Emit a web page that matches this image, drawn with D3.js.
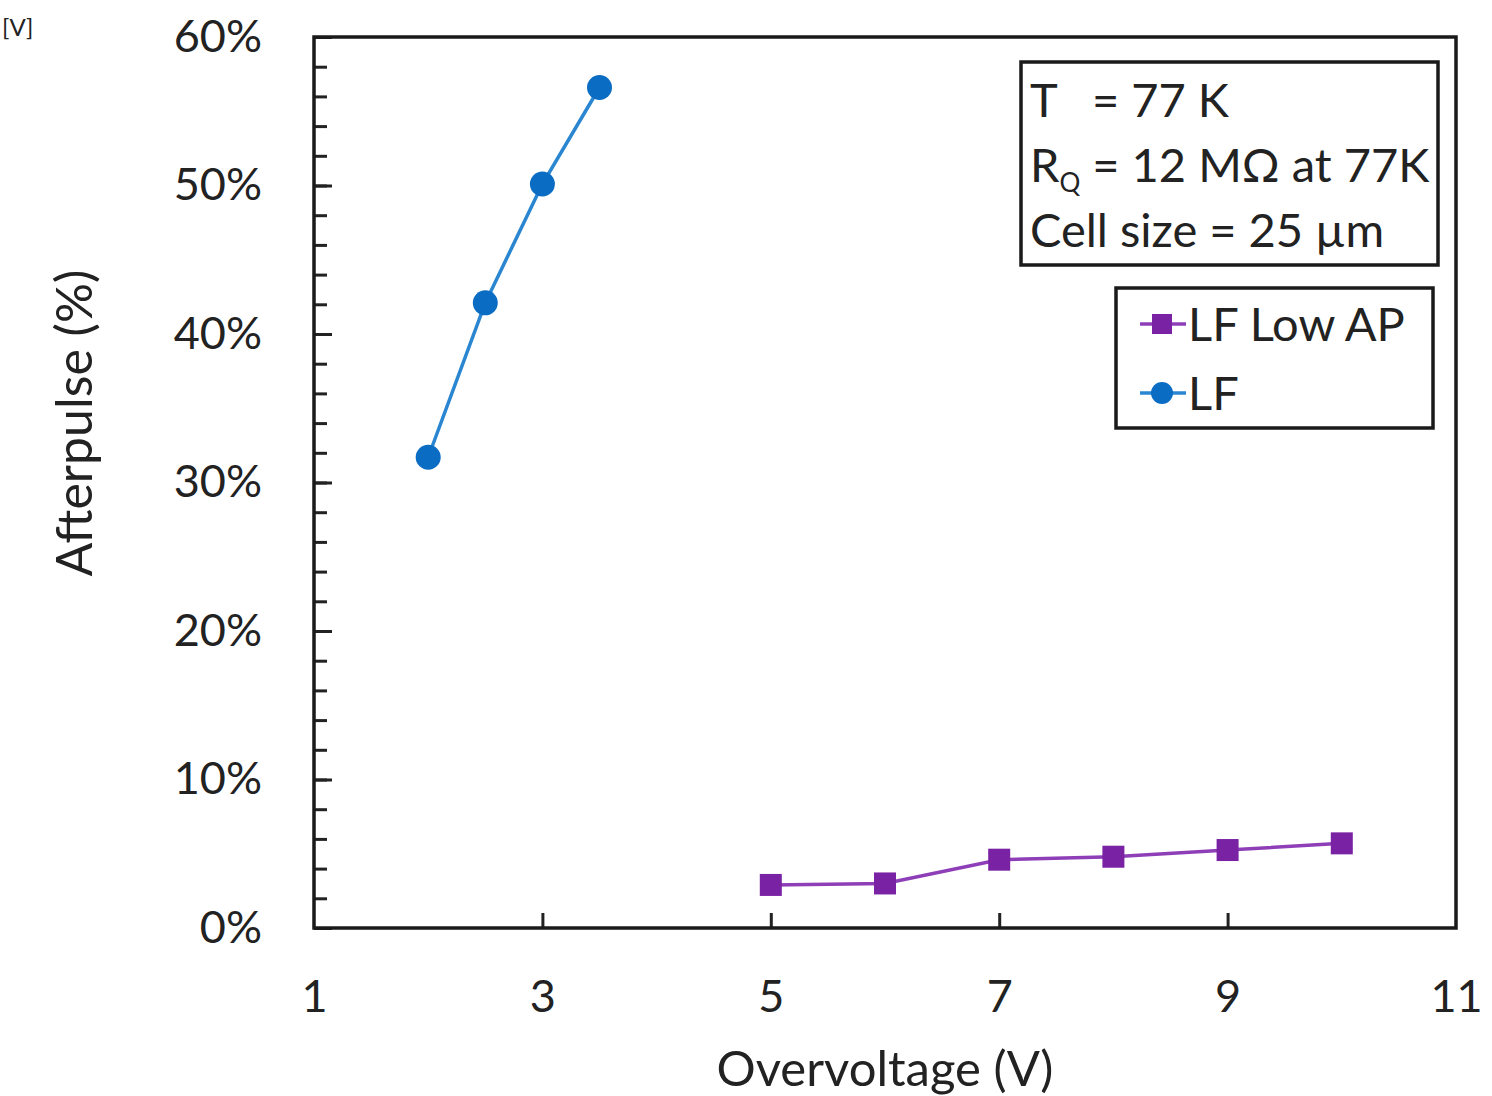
<!DOCTYPE html>
<html>
<head>
<meta charset="utf-8">
<script src="https://cdn.jsdelivr.net/npm/d3@7"></script>
<style>
  html, body { margin: 0; padding: 0; background: #fff; }
  svg { display: block; }
  text { font-family: Lato, "Open Sans", sans-serif; fill: #222; }
</style>
</head>
<body>
<svg id="chart" width="1492" height="1096"></svg>
<script>
// ---- data ----
const lfX = [2, 2.5, 3, 3.5];
const lfY = [0.317, 0.421, 0.501, 0.566];
const lowApX = [5, 6, 7, 8, 9, 10];
const lowApY = [0.029, 0.030, 0.046, 0.048, 0.0525, 0.057];
const xTicks = [1, 3, 5, 7, 9, 11];
const yTicks = [0, 0.1, 0.2, 0.3, 0.4, 0.5, 0.6];
const yMinorTicks = d3.range(0, 0.6001, 0.02);
const infoLines = ["T", "R", "Cell size = 25 µm"];
const legendNames = ["LF Low AP", "LF"];

// ---- layout ----
const svg = d3.select("#chart");
const pL = 314, pR = 1456, pT = 37, pB = 928;
const x = d3.scaleLinear().domain([1, 11]).range([pL, pR]);
const y = d3.scaleLinear().domain([0, 0.6]).range([pB, pT]);

const blue = "#0b6cc4", blueLine = "#2a86d0";
const purple = "#7a22a4", purpleLine = "#8e3fb8";
const fs = 47;

// minor y ticks (inward)
svg.append("g")
  .attr("transform", `translate(${pL},0)`)
  .call(d3.axisRight(y).tickValues(yMinorTicks).tickSize(13).tickFormat(""))
  .call(g => g.select(".domain").remove())
  .call(g => g.selectAll("line").attr("stroke", "#222").attr("stroke-width", 3));

// major y ticks + labels
const yAxis = svg.append("g")
  .attr("transform", `translate(${pL},0)`)
  .call(d3.axisLeft(y).tickValues(yTicks).tickSize(0).tickPadding(52).tickFormat(d3.format(".0%")));
yAxis.select(".domain").remove();
yAxis.selectAll("text").attr("font-size", 45).attr("fill", "#222").style("font-family", "Lato, sans-serif");
svg.append("g")
  .attr("transform", `translate(${pL},0)`)
  .call(d3.axisRight(y).tickValues(yTicks).tickSize(18).tickFormat(""))
  .call(g => g.select(".domain").remove())
  .call(g => g.selectAll("line").attr("stroke", "#222").attr("stroke-width", 3));

// x axis
const xAxis = svg.append("g")
  .attr("transform", `translate(0,${pB})`)
  .call(d3.axisBottom(x).tickValues(xTicks).tickSize(0).tickPadding(52).tickFormat(d3.format("d")));
xAxis.select(".domain").remove();
xAxis.selectAll("text").attr("font-size", 45).attr("fill", "#222").style("font-family", "Lato, sans-serif");
svg.append("g")
  .attr("transform", `translate(0,${pB})`)
  .call(d3.axisTop(x).tickValues(xTicks.slice(1, -1)).tickSize(15).tickFormat(""))
  .call(g => g.select(".domain").remove())
  .call(g => g.selectAll("line").attr("stroke", "#222").attr("stroke-width", 3));

// frame
svg.append("rect")
  .attr("x", pL).attr("y", pT)
  .attr("width", pR - pL).attr("height", pB - pT)
  .attr("fill", "none").attr("stroke", "#1a1a1a").attr("stroke-width", 3.5);

// axis titles
svg.append("text")
  .attr("transform", `translate(92,423) rotate(-90)`)
  .attr("text-anchor", "middle")
  .attr("font-size", 50)
  .text("Afterpulse (%)");
svg.append("text")
  .attr("x", 885).attr("y", 1086)
  .attr("text-anchor", "middle")
  .attr("font-size", 49)
  .text("Overvoltage (V)");

svg.append("text")
  .attr("x", 2).attr("y", 36)
  .attr("font-size", 24)
  .text("[V]");

// series
const line = d3.line().x(d => x(d[0])).y(d => y(d[1]));
const lfData = lfX.map((v, i) => [v, lfY[i]]);
const lowData = lowApX.map((v, i) => [v, lowApY[i]]);

svg.append("path").datum(lowData).attr("d", line)
  .attr("fill", "none").attr("stroke", purpleLine).attr("stroke-width", 3.5);
svg.selectAll(".sq").data(lowData).enter().append("rect")
  .attr("x", d => x(d[0]) - 11).attr("y", d => y(d[1]) - 11)
  .attr("width", 22).attr("height", 22)
  .attr("fill", purple);

svg.append("path").datum(lfData).attr("d", line)
  .attr("fill", "none").attr("stroke", blueLine).attr("stroke-width", 3.5);
svg.selectAll(".dot").data(lfData).enter().append("circle")
  .attr("cx", d => x(d[0])).attr("cy", d => y(d[1])).attr("r", 12.5)
  .attr("fill", blue);

// info box
svg.append("rect").attr("x", 1021).attr("y", 62).attr("width", 417).attr("height", 203)
  .attr("fill", "#fff").attr("stroke", "#1a1a1a").attr("stroke-width", 3.5);
const t1 = svg.append("text").attr("x", 1030).attr("y", 117).attr("font-size", fs);
t1.append("tspan").text("T");
t1.append("tspan").attr("x", 1092).text("= 77 K");
const t2 = svg.append("text").attr("x", 1030).attr("y", 182).attr("font-size", fs);
t2.append("tspan").text("R");
t2.append("tspan").attr("font-size", 26).attr("dy", 10).text("Q");
t2.append("tspan").attr("dy", -10).text(" = 12 MΩ at 77K");
svg.append("text").attr("x", 1030).attr("y", 247).attr("font-size", fs).text(infoLines[2]);

// legend box
svg.append("rect").attr("x", 1116).attr("y", 288).attr("width", 317).attr("height", 140)
  .attr("fill", "#fff").attr("stroke", "#1a1a1a").attr("stroke-width", 3.5);
const lg = [
  { name: legendNames[0], y: 324, color: purple, lc: purpleLine, shape: "sq" },
  { name: legendNames[1], y: 393, color: blue, lc: blueLine, shape: "dot" }
];
lg.forEach(d => {
  svg.append("line").attr("x1", 1140).attr("x2", 1186).attr("y1", d.y).attr("y2", d.y)
    .attr("stroke", d.lc).attr("stroke-width", 3.5);
  if (d.shape === "sq") {
    svg.append("rect").attr("x", 1152).attr("y", d.y - 10).attr("width", 20).attr("height", 20).attr("fill", d.color);
  } else {
    svg.append("circle").attr("cx", 1162).attr("cy", d.y).attr("r", 11).attr("fill", d.color);
  }
  svg.append("text").attr("x", 1188).attr("y", d.y + 17).attr("font-size", fs).text(d.name);
});
</script>
</body>
</html>
